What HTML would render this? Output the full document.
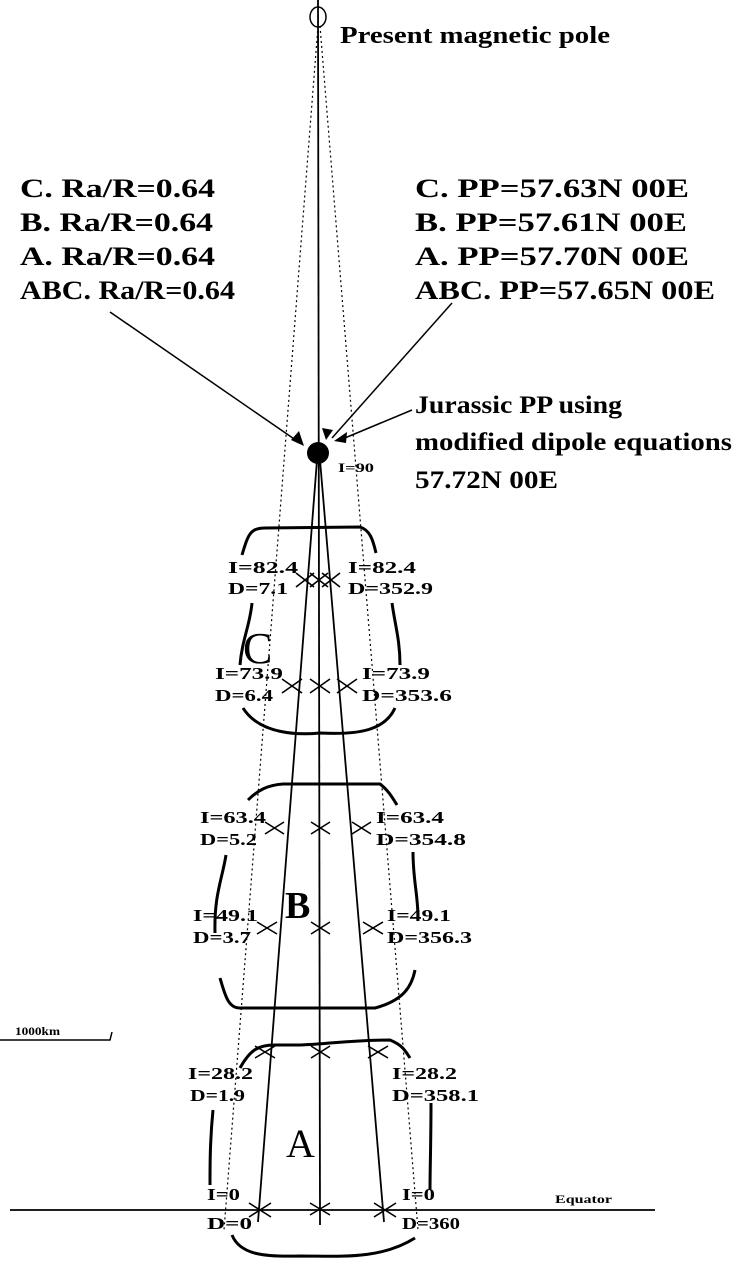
<!DOCTYPE html>
<html><head><style>
html,body{margin:0;padding:0;background:#fff;}
svg{display:block;}
text{font-family:"Liberation Serif",serif;fill:#000;}
.b{font-size:26px;font-weight:bold;}
.s{font-size:17px;font-weight:bold;}
</style></head><body>
<svg width="750" height="1271" viewBox="0 0 750 1271" xmlns="http://www.w3.org/2000/svg">
<g stroke="#000" fill="none">
<line x1="318" y1="0" x2="320" y2="1225" stroke-width="1.8"/>
<line x1="318" y1="26" x2="224" y2="1230" stroke-width="1.2" stroke-dasharray="2,3"/>
<line x1="320" y1="26" x2="418" y2="1230" stroke-width="1.2" stroke-dasharray="2,3"/>
<line x1="317" y1="460" x2="258" y2="1222" stroke-width="1.8"/>
<line x1="320" y1="460" x2="384" y2="1222" stroke-width="1.8"/>
<ellipse cx="318" cy="17" rx="8" ry="10" stroke-width="1.5"/>
<line x1="10" y1="1210" x2="655" y2="1210" stroke-width="1.8"/>
<polyline points="0,1040 110,1040 112,1032" stroke-width="1.5"/>
<line x1="110" y1="312" x2="300" y2="443" stroke-width="1.5"/>
<polyline points="452,303 348,420 332,438" stroke-width="1.5"/>
<line x1="412" y1="410" x2="340" y2="440" stroke-width="1.5"/>
<path d="M242,555 C248,535 250,528 265,528 L360,527 C370,530 373,540 376,553" stroke-width="3"/>
<path d="M252,603 C250,625 242,640 240,665" stroke-width="3"/>
<path d="M392,603 C395,625 400,640 400,665" stroke-width="3"/>
<path d="M243,708 C260,735 300,735 320,733 C360,735 385,730 395,708" stroke-width="3"/>
<path d="M248,800 C258,790 268,785 283,784 L380,784 C388,790 392,797 397,805" stroke-width="3"/>
<path d="M226,855 C222,880 214,895 215,933" stroke-width="3"/>
<path d="M413,852 C413,880 418,895 418,918" stroke-width="3"/>
<path d="M220,978 C225,995 228,1008 240,1008 L375,1008 C405,1000 412,985 415,970" stroke-width="3"/>
<path d="M240,1068 C250,1050 258,1045 275,1045 L300,1045 C330,1044 350,1040 390,1040 C402,1045 405,1050 410,1058" stroke-width="3"/>
<path d="M213,1110 C210,1140 210,1165 210,1185" stroke-width="3"/>
<path d="M431,1103 C431,1140 430,1170 430,1190" stroke-width="3"/>
<path d="M232,1235 C240,1255 265,1257 300,1256 C340,1256 380,1260 415,1238" stroke-width="3"/>
<g stroke-width="1.6">
<path d="M296,573 l18,14 M296,587 l18,-14"/>
<path d="M310,573 l18,14 M310,587 l18,-14"/>
<path d="M322,573 l18,14 M322,587 l18,-14"/>
<path d="M282,679 l20,14 M282,693 l20,-14"/>
<path d="M310,679 l20,14 M310,693 l20,-14"/>
<path d="M337,679 l20,14 M337,693 l20,-14"/>
<path d="M265,822 l19,12 M265,834 l19,-12"/>
<path d="M311,822 l19,12 M311,834 l19,-12"/>
<path d="M352,822 l19,12 M352,834 l19,-12"/>
<path d="M257,922 l20,12 M257,934 l20,-12"/>
<path d="M311,922 l19,12 M311,934 l19,-12"/>
<path d="M363,922 l20,12 M363,934 l20,-12"/>
<path d="M255,1046 l20,12 M255,1058 l20,-12"/>
<path d="M311,1046 l19,12 M311,1058 l19,-12"/>
<path d="M368,1046 l20,12 M368,1058 l20,-12"/>
<path d="M249,1203 l22,14 M249,1217 l22,-14"/>
<path d="M310,1203 l20,12 M310,1215 l20,-12"/>
<path d="M374,1203 l22,14 M374,1217 l22,-14"/>
</g>
</g>
<circle cx="318" cy="453" r="11" fill="#000"/>
<polygon points="304,446 291,440 299,431" fill="#000"/>
<polygon points="326,440 322,428 333,430" fill="#000"/>
<polygon points="334,441 347,432 346,443" fill="#000"/>
<text x="340" y="43" class="b" style="font-size:24px" textLength="270" lengthAdjust="spacingAndGlyphs">Present magnetic pole</text>
<text x="20" y="197" class="b" textLength="195" lengthAdjust="spacingAndGlyphs">C. Ra/R=0.64</text>
<text x="20" y="231" class="b" textLength="193" lengthAdjust="spacingAndGlyphs">B. Ra/R=0.64</text>
<text x="20" y="265" class="b" textLength="195" lengthAdjust="spacingAndGlyphs">A. Ra/R=0.64</text>
<text x="20" y="299" class="b" textLength="215" lengthAdjust="spacingAndGlyphs">ABC. Ra/R=0.64</text>
<text x="415" y="197" class="b" textLength="274" lengthAdjust="spacingAndGlyphs">C. PP=57.63N 00E</text>
<text x="415" y="231" class="b" textLength="272" lengthAdjust="spacingAndGlyphs">B. PP=57.61N 00E</text>
<text x="415" y="265" class="b" textLength="274" lengthAdjust="spacingAndGlyphs">A. PP=57.70N 00E</text>
<text x="415" y="299" class="b" textLength="300" lengthAdjust="spacingAndGlyphs">ABC. PP=57.65N 00E</text>
<text x="415" y="413" class="b" style="font-size:25px" textLength="207" lengthAdjust="spacingAndGlyphs">Jurassic PP using</text>
<text x="415" y="450" class="b" style="font-size:25px" textLength="317" lengthAdjust="spacingAndGlyphs">modified dipole equations</text>
<text x="415" y="488" class="b" style="font-size:25px" textLength="143" lengthAdjust="spacingAndGlyphs">57.72N 00E</text>
<text x="338" y="472" class="s" style="font-size:13px" textLength="36" lengthAdjust="spacingAndGlyphs">I=90</text>
<text x="228" y="573" class="s" textLength="70" lengthAdjust="spacingAndGlyphs">I=82.4</text><text x="228" y="594" class="s" textLength="60" lengthAdjust="spacingAndGlyphs">D=7.1</text>
<text x="348" y="573" class="s" textLength="68" lengthAdjust="spacingAndGlyphs">I=82.4</text><text x="348" y="594" class="s" textLength="85" lengthAdjust="spacingAndGlyphs">D=352.9</text>
<text x="215" y="679" class="s" textLength="68" lengthAdjust="spacingAndGlyphs">I=73.9</text><text x="215" y="701" class="s" textLength="58" lengthAdjust="spacingAndGlyphs">D=6.4</text>
<text x="362" y="679" class="s" textLength="68" lengthAdjust="spacingAndGlyphs">I=73.9</text><text x="362" y="701" class="s" textLength="90" lengthAdjust="spacingAndGlyphs">D=353.6</text>
<text x="200" y="823" class="s" textLength="66" lengthAdjust="spacingAndGlyphs">I=63.4</text><text x="200" y="845" class="s" textLength="57" lengthAdjust="spacingAndGlyphs">D=5.2</text>
<text x="376" y="823" class="s" textLength="68" lengthAdjust="spacingAndGlyphs">I=63.4</text><text x="376" y="845" class="s" textLength="90" lengthAdjust="spacingAndGlyphs">D=354.8</text>
<text x="193" y="921" class="s" textLength="65" lengthAdjust="spacingAndGlyphs">I=49.1</text><text x="193" y="943" class="s" textLength="58" lengthAdjust="spacingAndGlyphs">D=3.7</text>
<text x="387" y="921" class="s" textLength="64" lengthAdjust="spacingAndGlyphs">I=49.1</text><text x="387" y="943" class="s" textLength="85" lengthAdjust="spacingAndGlyphs">D=356.3</text>
<text x="188" y="1079" class="s" textLength="65" lengthAdjust="spacingAndGlyphs">I=28.2</text><text x="190" y="1101" class="s" textLength="55" lengthAdjust="spacingAndGlyphs">D=1.9</text>
<text x="392" y="1079" class="s" textLength="65" lengthAdjust="spacingAndGlyphs">I=28.2</text><text x="392" y="1101" class="s" textLength="87" lengthAdjust="spacingAndGlyphs">D=358.1</text>
<text x="207" y="1200" class="s" textLength="33" lengthAdjust="spacingAndGlyphs">I=0</text><text x="207" y="1229" class="s" textLength="45" lengthAdjust="spacingAndGlyphs">D=0</text>
<text x="402" y="1200" class="s" textLength="33" lengthAdjust="spacingAndGlyphs">I=0</text><text x="402" y="1229" class="s" textLength="58" lengthAdjust="spacingAndGlyphs">D=360</text>
<text x="555" y="1203" class="s" style="font-size:12px" textLength="57" lengthAdjust="spacingAndGlyphs">Equator</text>
<text x="15" y="1035" class="s" style="font-size:12px" textLength="45" lengthAdjust="spacingAndGlyphs">1000km</text>
<text x="243" y="663" style="font-size:44px">C</text>
<text x="285" y="918" style="font-size:38px;font-weight:bold">B</text>
<text x="286" y="1157" style="font-size:40px">A</text>
</svg>
</body></html>
